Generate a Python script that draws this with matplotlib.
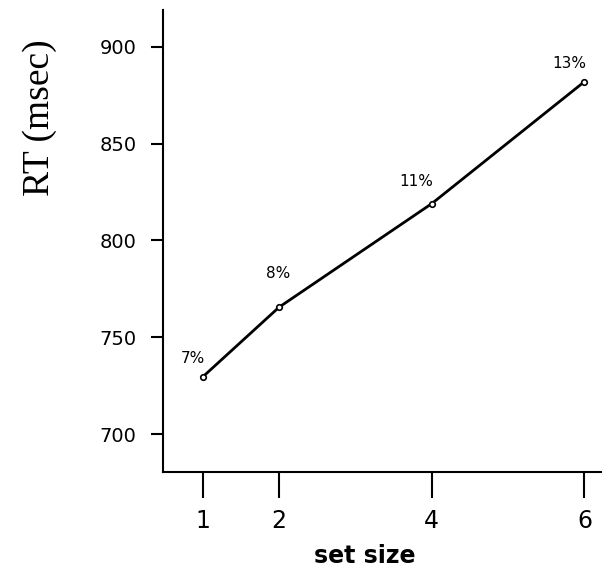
import matplotlib
matplotlib.use("Agg")
import matplotlib.pyplot as plt

# data
set_size = [1, 2, 4, 6]
rt_msec = [729.5, 765.5, 819, 882]
error_labels = ["7%", "8%", "11%", "13%"]
label_offsets = [(-7, 13), (-1, 24), (-11, 16), (-11, 13)]  # points, relative to marker

y_ticks = [700, 750, 800, 850, 900]
x_ticks = [1, 2, 4, 6]

fig = plt.figure(figsize=(6.02, 5.75), dpi=100)
ax = fig.add_axes([163 / 602, 1 - 472 / 575, 1 - 163 / 602, (472 - 10) / 575])

ax.plot(set_size, rt_msec, color="black", lw=2.0, marker="o", ms=4,
        mfc="white", mec="black", mew=1.2, solid_capstyle="round")
for x, y, lab, (dx, dy) in zip(set_size, rt_msec, error_labels, label_offsets):
    ax.annotate(lab, (x, y), xytext=(dx, dy), textcoords="offset points",
                ha="center", va="center", fontsize=11)

ax.set_xlim(0.48, 6.23)
ax.set_ylim(680.4, 919)
ax.set_xticks(x_ticks)
ax.set_yticks(y_ticks)
ax.tick_params(axis="y", direction="out", length=9, width=1.5, labelsize=14, pad=10)
ax.tick_params(axis="x", direction="out", length=19, width=1.5, labelsize=17, pad=8)

for side in ("top", "right"):
    ax.spines[side].set_visible(False)
for side in ("left", "bottom"):
    ax.spines[side].set_linewidth(1.5)

ax.set_xlabel("set size", fontsize=17, fontweight="bold", va="center")
ax.xaxis.set_label_coords((365 - 163) / (602 - 163), -(556 - 472) / 462)
ax.set_ylabel("RT (msec)", fontsize=27, family="Liberation Serif", va="center")
ax.yaxis.set_label_coords(-(163 - 40) / (602 - 163), 1 - (118 - 10) / 462)

fig.savefig("out.png", dpi=100)
